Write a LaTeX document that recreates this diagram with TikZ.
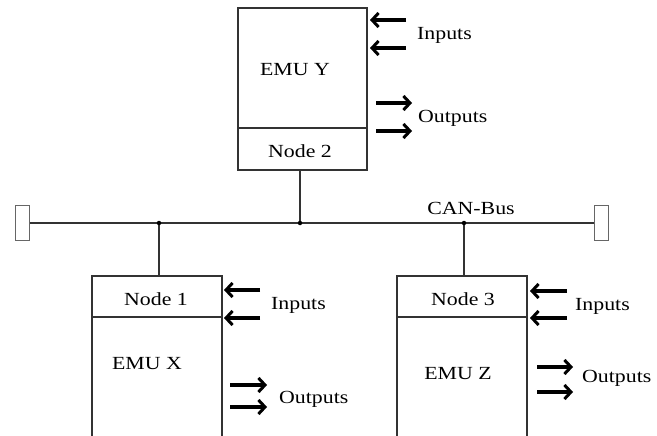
\documentclass[tikz,border=0pt]{standalone}
\usepackage{fontspec}
\setmainfont{Liberation Serif}
\usetikzlibrary{arrows.meta}
\newcommand{\widetxt}[1]{\scalebox{1.18}[1]{#1}}
\tikzset{
  ln/.style={draw=black!80, line width=1.5pt},
  box/.style={ln, rectangle, inner sep=0pt, fill=none},
  lbl/.style={inner sep=0pt, font=\fontsize{18.5}{20}\selectfont, text=black},
  io/.style={line width=3.5pt, -{Straight Barb[length=6.5pt,width=14pt,line width=3pt]}},
  term/.style={draw=black!60, line width=1.3pt, rectangle, inner sep=0pt, minimum width=14pt, minimum height=35pt},
  dot/.style={circle, fill=black, inner sep=0pt, minimum size=4.5pt}
}
\begin{document}
\begin{tikzpicture}[x=1pt,y=-1pt]
\useasboundingbox (0,0) rectangle (657,436);
\clip (0,0) rectangle (657,436);
\fill[white] (0,0) rectangle (657,436);
% boxes
\node[box, minimum width=129pt, minimum height=162pt] (boxY) at (302.5,89) {};
\node[box, minimum width=130pt, minimum height=180pt] (boxX) at (157,366) {};
\node[box, minimum width=130pt, minimum height=180pt] (boxZ) at (462,366) {};
\coordinate (dYl) at (238,128); \coordinate (dYr) at (367,128);
\coordinate (dXl) at (92,317); \coordinate (dXr) at (222,317);
\coordinate (dZl) at (397,317); \coordinate (dZr) at (527,317);
\draw[ln] (dYl) -- (dYr);
\draw[ln] (dXl) -- (dXr);
\draw[ln] (dZl) -- (dZr);
% labels
\node[lbl] (emuy) at (295,70) {\widetxt{EMU Y}};
\node[lbl] (n2) at (300,151) {\widetxt{Node 2}};
\node[lbl] (n1) at (156,299) {\widetxt{Node 1}};
\node[lbl] (emux) at (147,364) {\widetxt{EMU X}};
\node[lbl] (n3) at (463,299) {\widetxt{Node 3}};
\node[lbl] (emuz) at (458,374) {\widetxt{EMU Z}};
\node[lbl, anchor=west] (inY) at (417,35) {\widetxt{Inputs}};
\node[lbl, anchor=west] (outY) at (418,118) {\widetxt{Outputs}};
\node[lbl, anchor=west] (inX) at (271,305) {\widetxt{Inputs}};
\node[lbl, anchor=west] (outX) at (279,399) {\widetxt{Outputs}};
\node[lbl, anchor=west] (inZ) at (575,306) {\widetxt{Inputs}};
\node[lbl, anchor=west] (outZ) at (582,378) {\widetxt{Outputs}};
\node[lbl] (can) at (471,208) {\widetxt{CAN-Bus}};
% bus
\node[term] (tL) at (22.5,223) {};
\node[term] (tR) at (601.5,223) {};
\coordinate (J1) at (159,223);
\coordinate (J2) at (300,223);
\coordinate (J3) at (464,223);
\draw[ln, line width=2pt] (tL.east) -- (tR.west);
\draw[ln] (J2) -- (J2 |- boxY.south);
\draw[ln] (J1) -- (J1 |- boxX.north);
\draw[ln] (J3) -- (J3 |- boxZ.north);
\node[dot] at (J1) {};
\node[dot] at (J2) {};
\node[dot] at (J3) {};
% io arrows
\draw[io] (406,20) -- (370,20);
\draw[io] (406,48) -- (370,48);
\draw[io] (376,103) -- (412,103);
\draw[io] (376,131) -- (412,131);
\draw[io] (260,290) -- (224,290);
\draw[io] (260,318) -- (224,318);
\draw[io] (230,385) -- (267,385);
\draw[io] (230,407) -- (267,407);
\draw[io] (567,291) -- (530,291);
\draw[io] (567,318) -- (530,318);
\draw[io] (537,367) -- (573,367);
\draw[io] (537,392) -- (573,392);
\end{tikzpicture}
\end{document}
